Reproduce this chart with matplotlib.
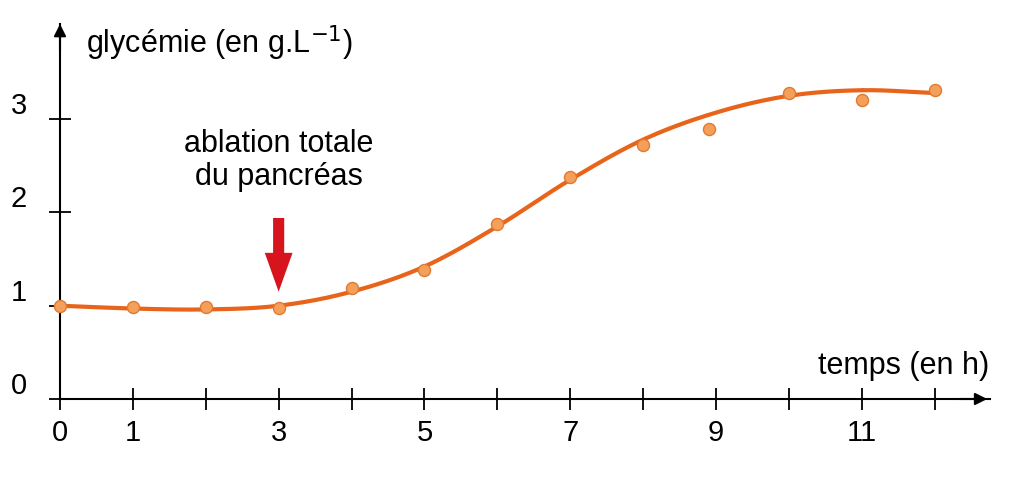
import numpy as np
import matplotlib
matplotlib.use("Agg")
import matplotlib.pyplot as plt

plt.rcParams['font.family'] = ['Liberation Sans', 'DejaVu Sans']

pts_x = [0, 1, 2, 3, 4, 5, 6, 7, 8, 8.9, 10, 11, 12]
pts_y = [1.0, 0.99, 0.99, 0.98, 1.19, 1.38, 1.88, 2.38, 2.72, 2.89, 3.28, 3.20, 3.31]
curve_x = [0, 1, 2, 3, 4, 5, 6, 7, 8, 9, 10, 11, 12]
curve_y = [1.0, 0.97, 0.96, 1.0, 1.15, 1.42, 1.85, 2.35, 2.78, 3.07, 3.25, 3.31, 3.28]
xtick_labels = [0, 1, 3, 5, 7, 9, 11]
ytick_labels = [0, 1, 2, 3]

def catmull(x, y, n=30):
    x = np.array(x, float); y = np.array(y, float)
    P = np.vstack([x, y]).T
    P = np.vstack([2*P[0]-P[1], P, 2*P[-1]-P[-2]])
    out = []
    t = np.linspace(0, 1, n)[:, None]
    for i in range(1, len(P)-2):
        p0, p1, p2, p3 = P[i-1], P[i], P[i+1], P[i+2]
        seg = 0.5*((2*p1) + (-p0+p2)*t + (2*p0-5*p1+4*p2-p3)*t**2 + (-p0+3*p1-3*p2+p3)*t**3)
        out.append(seg)
    o = np.vstack(out)
    return o[:, 0], o[:, 1]

fig = plt.figure(figsize=(10.24, 4.81), dpi=100)
ax = fig.add_axes([60/1024, 81/481, 930/1024, 375/481])
ax.set_xlim(0, 12.76)
ax.set_ylim(0, 4.02)
for s in ["top", "right"]:
    ax.spines[s].set_visible(False)
for s in ["left", "bottom"]:
    ax.spines[s].set_linewidth(1.5)
ax.set_xticks(range(0, 13))
ax.set_xticklabels([str(i) if i in xtick_labels else "" for i in range(13)], fontsize=21)
ax.set_yticks(ytick_labels)
ax.set_yticklabels([str(v) for v in ytick_labels], fontsize=21)
ax.tick_params(direction="inout", length=16, width=1.3, pad=6)
ax.tick_params(axis="y", pad=16)
for lab in ax.get_yticklabels():
    lab.set_verticalalignment("bottom")

cx, cy = catmull(curve_x, curve_y)
ax.plot(cx, cy, color="#e8641b", lw=3, clip_on=False, zorder=2)
ax.scatter(pts_x, pts_y, s=75, color="#f5a05a", edgecolor="#e07a30", lw=1, zorder=3, clip_on=False)

ax.annotate("", xy=(12.76, 0), xytext=(12.3, 0), xycoords="data",
            arrowprops=dict(arrowstyle="-|>", color="black", lw=1.5, mutation_scale=18), annotation_clip=False)
ax.annotate("", xy=(0, 4.05), xytext=(0, 3.7),
            arrowprops=dict(arrowstyle="-|>", color="black", lw=1.5, mutation_scale=18), annotation_clip=False)
ax.text(0.36, 3.82, "glycémie (en g.L$^{-1}$)", fontsize=22, va="center")
ax.text(12.75, 0.36, "temps (en h)", fontsize=22, ha="right", va="center")
ax.text(3.0, 2.57, "ablation totale\ndu pancréas", fontsize=22, ha="center", va="center", linespacing=1.15)
ax.annotate("", xy=(3.0, 1.12), xytext=(3.0, 1.97),
            arrowprops=dict(arrowstyle="simple,head_width=1.0,head_length=1.4,tail_width=0.4",
                            color="#d7141d", lw=0, mutation_scale=20))
fig.savefig("out.png", dpi=100)
